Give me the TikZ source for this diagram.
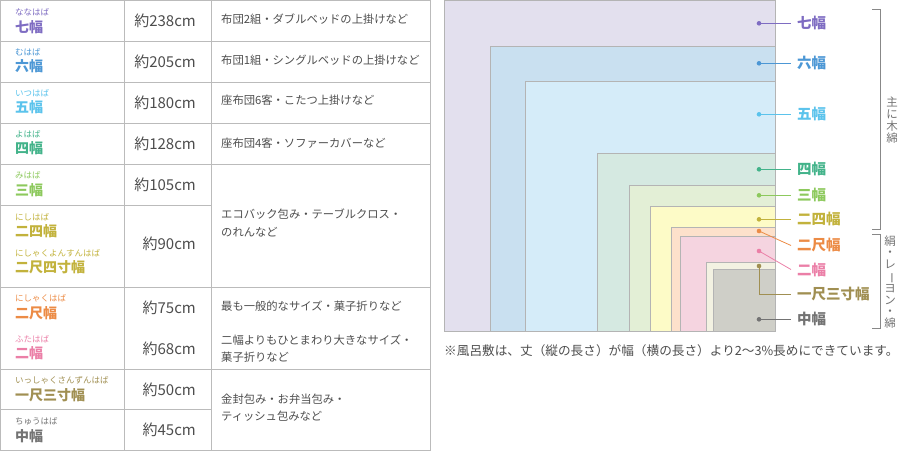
\documentclass[tikz,border=0pt]{standalone}
\usepackage{fontspec}
\setmainfont{Noto Sans CJK JP}
\usetikzlibrary{positioning}

\definecolor{h7}{HTML}{7E6CC2}
\definecolor{h6}{HTML}{4C97D5}
\definecolor{h5}{HTML}{5BC3EC}
\definecolor{h4}{HTML}{43B38A}
\definecolor{h3}{HTML}{8DC95D}
\definecolor{h24}{HTML}{C2B23C}
\definecolor{h2s}{HTML}{EC8B45}
\definecolor{h2}{HTML}{EB7FA7}
\definecolor{h13}{HTML}{A08F52}
\definecolor{hc}{HTML}{737373}
\definecolor{f7}{HTML}{E3E0EE}
\definecolor{f6}{HTML}{C9E0F0}
\definecolor{f5}{HTML}{D5ECF9}
\definecolor{f4}{HTML}{D5E9E1}
\definecolor{f3}{HTML}{E3EFD6}
\definecolor{f24}{HTML}{FDFBC7}
\definecolor{f2s}{HTML}{FDE1CB}
\definecolor{f2}{HTML}{F5D4E0}
\definecolor{f13}{HTML}{F3F2E2}
\definecolor{fc}{HTML}{CFCFC8}
\definecolor{rulegray}{HTML}{BBBBBB}
\definecolor{boxgray}{HTML}{B4B4B4}
\definecolor{textgray}{HTML}{4D4D4D}
\definecolor{brackgray}{HTML}{888888}

\begin{document}
\begin{tikzpicture}[x=1pt,y=-1pt,
  rule/.style={draw=rulegray,line width=1pt},
  kanatext/.style={anchor=west,inner sep=0pt,font=\fontsize{8.5}{9}\selectfont},
  habatext/.style={anchor=west,inner sep=0pt,font=\fontsize{14}{15}\selectfont\bfseries},
  lentext/.style={anchor=east,inner sep=0pt,text=textgray,font=\fontsize{15}{16}\selectfont},
  usetext/.style={anchor=west,inner sep=0pt,align=left,text=textgray,font=\fontsize{11.3}{17.3}\selectfont},
  sizebox/.style={draw=boxgray,line width=0.8pt},
  sizelabel/.style={anchor=west,inner xsep=6pt,inner ysep=0pt,font=\fontsize{14.5}{15}\selectfont\bfseries},
  leader/.style={line width=0.8pt},
  leaddot/.style={circle,fill,inner sep=0pt,minimum size=4.6pt},
  bracket/.style={draw=brackgray,line width=1pt},
  vtext/.style={align=center,inner sep=0pt,text=hc,font=\fontsize{11.5}{11.8}\selectfont}]
  \useasboundingbox (0,0) rectangle (899,451);

  % Draw table
  \draw[rule] (0.5,0.5) rectangle (430.5,450.5);
  \foreach \x in {124.5,211.5} \draw[rule] (\x,0.5) -- (\x,450.5);
  \foreach \y in {41.5,82.5,123.5,164.5,287.5,369.5} \draw[rule] (0.5,\y) -- (430.5,\y);
  \foreach \y in {205.5,409.5} \draw[rule] (0.5,\y) -- (211.5,\y);

  \foreach \id/\kana/\haba/\y in {7/ななはば/七幅/27, 6/むはば/六幅/66.3,
      5/いつはば/五幅/107.3, 4/よはば/四幅/148.3, 3/みはば/三幅/190,
      24/にしはば/二四幅/231.3, 2s/にしゃくはば/二尺幅/313.3,
      2/ふたはば/二幅/353.3, 13/いっしゃくさんずんはば/一尺三寸幅/395,
      c/ちゅうはば/中幅/435.7} {
    \node[habatext,text=h\id] (haba\id) at (15,\y) {\haba};
    \node[kanatext,text=h\id] (kana\id) at (15,\y-14.5) {\kana};
  }
  \node[habatext,text=h24] (haba24b) at (15,267.3) {二尺四寸幅};
  \node[kanatext,text=h24] (kana24b) at (15,253.5) {にしゃくよんすんはば};

  \foreach \id/\len/\y in {7/238/21, 6/205/62, 5/180/103, 4/128/144, 3/105/185,
      24/90/243.3, 2s/75/307.3, 2/68/349, 13/50/390, c/45/430}
    \node[lentext] (len\id) at (196,\y) {約\len cm};

  \node[usetext] (use7) at (221,19) {布団2組・ダブルベッドの上掛けなど};
  \node[usetext] (use6) at (221,60.7) {布団1組・シングルベッドの上掛けなど};
  \node[usetext] (use5) at (221,100) {座布団6客・こたつ上掛けなど};
  \node[usetext] (use4) at (221,142.7) {座布団4客・ソファーカバーなど};
  \node[usetext] (use3) at (221,223) {エコバック包み・テーブルクロス・\\のれんなど};
  \node[usetext] (use2s) at (221,306) {最も一般的なサイズ・菓子折りなど};
  \node[usetext] (use2) at (221,348.7) {二幅よりもひとまわり大きなサイズ・\\菓子折りなど};
  \node[usetext] (use13) at (221,407.7) {金封包み・お弁当包み・\\ティッシュ包みなど};

  % Draw nested sizes
  \foreach \id/\x/\y in {7/444.5/0.5, 6/490.5/46.5, 5/525.5/81.5, 4/597.5/153.5,
      3/629.5/185.5, 24/650.5/206.5, 2s/671.5/227.5, 2/680.5/236.5,
      13/706.5/262.5, c/713.5/269.5}
    \draw[sizebox,fill=f\id] (\x,\y) rectangle (775.5,331);

  \foreach \id/\dy/\ly/\lab in {7/23.3/23.3/七幅, 6/63.3/63.3/六幅,
      5/114.3/114.3/五幅, 4/169.3/169.3/四幅, 3/195.3/195.3/三幅,
      24/219.3/219.3/二四幅, 2s/231/245.5/二尺幅, 2/251/269.5/二幅,
      13/266/294.5/一尺三寸幅, c/319.3/319.3/中幅} {
    \node[leaddot,h\id] (dot\id) at (759,\dy) {};
    \node[sizelabel,text=h\id] (lab\id) at (791,\ly) {\lab};
  }
  \foreach \id in {7,6,5,4,3,24,2s,2,c}
    \draw[leader,h\id] (dot\id.center) -- (lab\id.west);
  \draw[leader,h13] (dot13.center) |- (lab13.west);

  % Draw brackets
  \draw[bracket] (872,9.5) -| (880.5,229.5) -- (872,229.5);
  \node[vtext] (kimen) at (892,120) {主\\に\\木\\綿};
  \draw[bracket] (872,234.5) -| (880.5,328.5) -- (872,328.5);
  \node[vtext] (kinu) at (890,282) {絹\\・\\レ\\\rotatebox[origin=c]{-90}{ー}\\ヨ\\ン\\・\\綿};

  \node[anchor=west,inner sep=0pt,text=textgray,font=\fontsize{12.65}{13}\selectfont]
    (note) at (444,351) {※風呂敷は、丈（縦の長さ）が幅（横の長さ）より2〜3\%長めにできています。};
\end{tikzpicture}
\end{document}
